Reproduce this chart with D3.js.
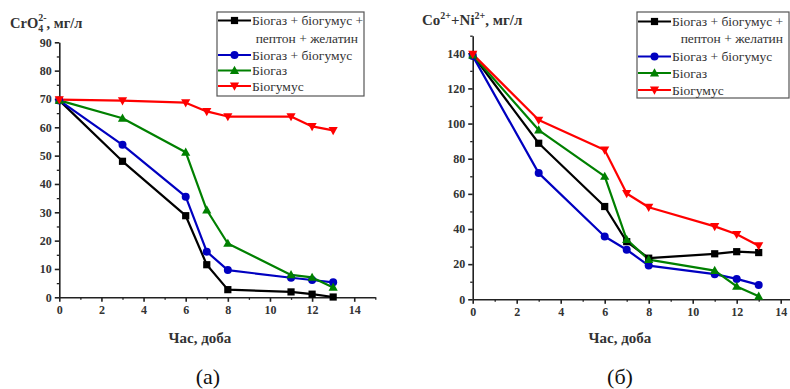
<!DOCTYPE html>
<html><head><meta charset="utf-8">
<script src="https://cdn.jsdelivr.net/npm/d3@7"></script>
<style>
body{margin:0;background:#fff;}
svg{display:block;}
</style></head><body>
<svg id="c" width="790" height="389" font-family="Liberation Serif"></svg>
<script>
const days = [0, 3, 6, 7, 8, 11, 12, 13];
const seriesNames = ["Біогаз + біогумус +", "Біогаз + біогумус", "Біогаз", "Біогумус"];
const seriesColors = ["#000000", "#0000c0", "#008000", "#ff0000"];
const seriesMarkers = ["square", "circle", "triangle", "triangleDown"];
// chart (а): CrO4 2-
const crBlack = [69.5, 48, 28.8, 11.5, 2.7, 1.9, 1.1, 0.1];
const crBlue  = [69.5, 53.8, 35.5, 16.1, 9.6, 6.9, 6.1, 5.3];
const crGreen = [69.5, 63.2, 51.2, 30.8, 19.0, 7.9, 7.0, 3.5];
const crRed   = [69.8, 69.4, 68.7, 65.6, 63.8, 63.8, 60.3, 58.9];
// chart (б): Co2+ + Ni2+
const coBlack = [139, 88.8, 52.8, 32.8, 23.4, 25.9, 27.1, 26.6];
const coBlue  = [138.5, 71.8, 35.7, 28.2, 19.2, 14.3, 11.6, 8.2];
const coGreen = [139, 96.3, 69.9, 34.0, 22.6, 16.3, 7.3, 1.7];
const coRed   = [139.5, 102, 85, 60.2, 52.4, 41.5, 37.0, 30.5];
const xTicks = [0, 2, 4, 6, 8, 10, 12, 14];
const crTicks = [0, 10, 20, 30, 40, 50, 60, 70, 80, 90];
const coTicks = [0, 20, 40, 60, 80, 100, 120, 140];

const FONT = "Liberation Serif";
const svg = d3.select("#c");

function drawChart(cfg){
  const g = svg.append("g");
  const x = d3.scaleLinear().domain([0,15]).range([cfg.x0, cfg.x1]);
  const y = d3.scaleLinear().domain([0,cfg.ymax]).range([cfg.y0, cfg.y1]);
  // minor ticks
  const xMinor = d3.range(1,16,2);
  g.append("g").attr("transform",`translate(0,${cfg.y0})`)
    .call(d3.axisBottom(x).tickValues(xMinor).tickSize(2.5).tickFormat(""))
    .call(a=>a.select(".domain").remove())
    .selectAll("line").attr("stroke","#222").attr("stroke-width",1.3);
  g.append("g").attr("transform",`translate(${cfg.x0},0)`)
    .call(d3.axisLeft(y).tickValues(cfg.yMinor).tickSize(2.5).tickFormat(""))
    .call(a=>a.select(".domain").remove())
    .selectAll("line").attr("stroke","#222").attr("stroke-width",1.3);
  const xa = g.append("g").attr("transform",`translate(0,${cfg.y0})`)
    .call(d3.axisBottom(x).tickValues(xTicks).tickSize(4.5).tickSizeOuter(0).tickPadding(4));
  const ya = g.append("g").attr("transform",`translate(${cfg.x0},0)`)
    .call(d3.axisLeft(y).tickValues(cfg.yTicks).tickSize(4.5).tickSizeOuter(0).tickPadding(3));
  [xa,ya].forEach(a=>{
    a.attr("font-family",FONT);
    a.select(".domain").attr("stroke","#222").attr("stroke-width",1.6);
    a.selectAll("line").attr("stroke","#222").attr("stroke-width",1.6);
    a.selectAll("text").attr("font-family",FONT).attr("font-weight","bold")
      .attr("font-size",12).attr("fill","#333");
  });
  // series
  const line = d3.line().x((d,i)=>x(days[i])).y(d=>y(d));
  cfg.series.forEach((vals,k)=>{
    g.append("path").datum(vals).attr("d",line).attr("fill","none")
      .attr("stroke",seriesColors[k]).attr("stroke-width",2.2).attr("stroke-linejoin","round");
  });
  cfg.series.forEach((vals,k)=>{
    vals.forEach((v,i)=>drawMarker(g, seriesMarkers[k], x(days[i]), y(v), seriesColors[k]));
  });
  // title
  cfg.title(g);
  g.append("text").attr("x",cfg.xlabX).attr("y",343).attr("text-anchor","middle")
    .attr("font-weight","bold").attr("font-size",15).attr("fill","#333").text("Час, доба");
  g.append("text").attr("x",cfg.capX).attr("y",384).attr("text-anchor","middle")
    .attr("font-size",22).attr("fill","#111").text(cfg.caption);
  // legend
  const L = cfg.legend;
  g.append("rect").attr("x",L.x).attr("y",L.y).attr("width",L.w).attr("height",L.h)
    .attr("fill","#fff").attr("stroke","#555").attr("stroke-width",1.2);
  const rows = L.rows;
  seriesNames.forEach((t,k)=>{
    const yy = rows[k===0?0:k+1];
    g.append("line").attr("x1",L.x+1).attr("x2",L.x+34).attr("y1",yy).attr("y2",yy)
      .attr("stroke",seriesColors[k]).attr("stroke-width",2.2);
    drawMarker(g, seriesMarkers[k], L.x+17.5, yy, seriesColors[k]);
    g.append("text").attr("x",L.x+35).attr("y",yy+4.5).attr("font-size",13.5)
      .attr("fill","#333").text(t);
  });
  g.append("text").attr("x",L.x+L.w-6).attr("y",rows[1]+4.5).attr("text-anchor","end")
    .attr("font-size",13.5).attr("fill","#333").text("пептон + желатин");
}

function drawMarker(g, type, cx, cy, color){
  if(type==="square"){
    g.append("rect").attr("x",cx-3.6).attr("y",cy-3.6).attr("width",7.2).attr("height",7.2).attr("fill",color);
  } else if(type==="circle"){
    g.append("circle").attr("cx",cx).attr("cy",cy).attr("r",4).attr("fill",color);
  } else if(type==="triangle"){
    g.append("path").attr("d",`M${cx},${cy-4.8}L${cx+4.6},${cy+3.4}L${cx-4.6},${cy+3.4}Z`).attr("fill",color);
  } else {
    g.append("path").attr("d",`M${cx},${cy+4.8}L${cx+4.6},${cy-3.4}L${cx-4.6},${cy-3.4}Z`).attr("fill",color);
  }
}

drawChart({
  x0:59.3, x1:375.3, y0:297.3, y1:42.3, ymax:90,
  yTicks:crTicks, yMinor:d3.range(5,90,10),
  series:[crBlack, crBlue, crGreen, crRed],
  xlabX:200, capX:208, caption:"(а)",
  legend:{x:217, y:12, w:147, h:84, rows:[20.5,38,55,70.5,86]},
  title:(g)=>{
    const t = g.append("text").attr("x",10).attr("y",28).attr("font-weight","bold")
      .attr("font-size",14.5).attr("fill","#333");
    t.append("tspan").text("CrO");
    t.append("tspan").attr("font-size",10).attr("dy",4).text("4");
    t.append("tspan").attr("font-size",10).attr("dx",-5).attr("dy",-11).text("2-");
    t.append("tspan").attr("dy",7).text(", мг/л");
  }
});
drawChart({
  x0:472.7, x1:802.7, y0:299.3, y1:35.7, ymax:150,
  yTicks:coTicks, yMinor:d3.range(10,160,20),
  series:[coBlack, coBlue, coGreen, coRed],
  xlabX:620, capX:620, caption:"(б)",
  legend:{x:637, y:12, w:152, h:86, rows:[21.5,38.5,56.5,73,90]},
  title:(g)=>{
    const t = g.append("text").attr("x",422).attr("y",25).attr("font-weight","bold")
      .attr("font-size",15).attr("fill","#333");
    t.append("tspan").text("Co");
    t.append("tspan").attr("font-size",10).attr("dy",-6).text("2+");
    t.append("tspan").attr("dy",6).text("+Ni");
    t.append("tspan").attr("font-size",10).attr("dy",-6).text("2+");
    t.append("tspan").attr("dy",6).text(", мг/л");
  }
});
svg.selectAll("text").attr("font-family",FONT);
</script></body></html>
